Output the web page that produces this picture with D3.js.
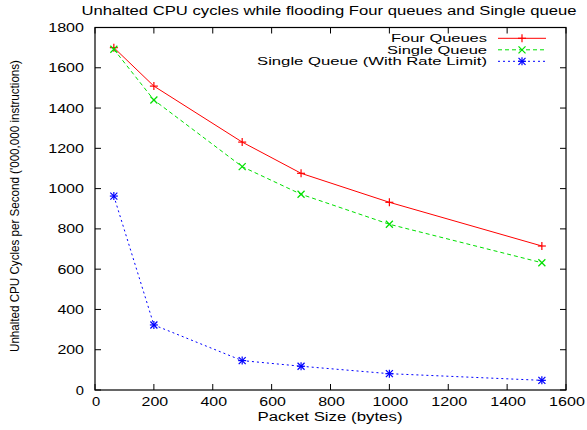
<!DOCTYPE html>
<html>
<head>
<meta charset="utf-8">
<script src="https://cdn.jsdelivr.net/npm/d3@7"></script>
<style>
  body { margin: 0; background: #fff; }
  svg text { font-family: "Liberation Sans", Arial, sans-serif; fill: #000; font-size: 12px; }
</style>
</head>
<body>
<div id="chart"></div>
<script>
// packet sizes (bytes)
const packetSizes = [64, 200, 500, 700, 1000, 1518];
// CPU cycles per second ('000,000 instructions)
const fourQueues = [1700, 1509, 1231, 1076, 932, 715];
const singleQueue = [1692, 1440, 1109, 972, 823, 632];
const singleQueueRate = [963, 323, 146, 118, 81, 48];

const xTicks = [0, 200, 400, 600, 800, 1000, 1200, 1400, 1600];
const yTicks = [0, 200, 400, 600, 800, 1000, 1200, 1400, 1600, 1800];

const seriesNames = ["Four Queues", "Single Queue", "Single Queue (With Rate Limit)"];
const seriesValues = [fourQueues, singleQueue, singleQueueRate];
const seriesColors = ["#ff0000", "#00e000", "#0000ff"];
const seriesDash = [null, "4,3", "2,3"];
const seriesMarker = ["plus", "cross", "star"];
// gnuplot's wide text, width of each legend label
const legendWidths = [96, 100, 230];

const width = 587, height = 430;
const margin = {top: 27.5, right: 21, bottom: 40, left: 95};
const digitWidth = 9.2;

let svg = d3.select("#chart").append("svg")
    .attr("width", width)
    .attr("height", height);

let x = d3.scaleLinear().domain([0, 1600]).range([margin.left, width - margin.right]);
let y = d3.scaleLinear().domain([0, 1800]).range([height - margin.bottom, margin.top]);

const tickLen = 6;

// ticks, gnuplot style: inward and mirrored
let ticks = svg.append("g").attr("stroke", "#000").attr("stroke-width", 1);
xTicks.forEach(function(t) {
    ticks.append("line").attr("x1", x(t)).attr("x2", x(t))
        .attr("y1", y(0)).attr("y2", y(0) - tickLen);
    ticks.append("line").attr("x1", x(t)).attr("x2", x(t))
        .attr("y1", y(1800)).attr("y2", y(1800) + tickLen);
});
yTicks.forEach(function(t) {
    ticks.append("line").attr("x1", x(0)).attr("x2", x(0) + tickLen)
        .attr("y1", y(t)).attr("y2", y(t));
    ticks.append("line").attr("x1", x(1600)).attr("x2", x(1600) - tickLen)
        .attr("y1", y(t)).attr("y2", y(t));
});

// border
svg.append("rect")
    .attr("x", x(0)).attr("y", y(1800))
    .attr("width", x(1600) - x(0)).attr("height", y(0) - y(1800))
    .attr("fill", "none").attr("stroke", "#000").attr("stroke-width", 1.2);

// tick labels
svg.append("g").selectAll("text").data(xTicks).enter().append("text")
    .attr("x", d => x(d) + 1).attr("y", y(0) + 16)
    .attr("text-anchor", "middle")
    .attr("textLength", d => String(d).length * digitWidth - 1)
    .attr("lengthAdjust", "spacingAndGlyphs")
    .text(d => d);
svg.append("g").selectAll("text").data(yTicks).enter().append("text")
    .attr("x", x(0) - 11).attr("y", d => y(d) + 4.5)
    .attr("text-anchor", "end")
    .attr("textLength", d => String(d).length * digitWidth - 1)
    .attr("lengthAdjust", "spacingAndGlyphs")
    .text(d => d);

// title and axis labels
svg.append("text")
    .attr("x", 329).attr("y", 15)
    .attr("text-anchor", "middle")
    .attr("textLength", 495)
    .attr("lengthAdjust", "spacingAndGlyphs")
    .text("Unhalted CPU cycles while flooding Four queues and Single queue");
svg.append("text")
    .attr("x", 330).attr("y", 421)
    .attr("text-anchor", "middle")
    .attr("textLength", 145)
    .attr("lengthAdjust", "spacingAndGlyphs")
    .text("Packet Size (bytes)");
svg.append("text")
    .attr("transform", "translate(19, 206) rotate(-90)")
    .attr("text-anchor", "middle")
    .attr("textLength", 292)
    .attr("lengthAdjust", "spacingAndGlyphs")
    .style("font-size", "13px")
    .text("Unhalted CPU Cycles per Second ('000,000 instructions)");

function drawMarker(g, type, cx, cy, color) {
    let s = 4;
    let segs = [];
    if (type === "plus" || type === "star") {
        segs.push([cx - s, cy, cx + s, cy], [cx, cy - s, cx, cy + s]);
    }
    if (type === "cross" || type === "star") {
        let k = 3.5;
        segs.push([cx - k, cy - k, cx + k, cy + k], [cx - k, cy + k, cx + k, cy - k]);
    }
    segs.forEach(function(p) {
        g.append("line")
            .attr("x1", p[0]).attr("y1", p[1]).attr("x2", p[2]).attr("y2", p[3])
            .attr("stroke", color).attr("stroke-width", 1.2);
    });
}

let line = d3.line()
    .x(function(d, i) { return x(packetSizes[i]); })
    .y(function(d) { return y(d); });

seriesValues.forEach(function(vals, s) {
    let g = svg.append("g");
    g.append("path")
        .attr("d", line(vals))
        .attr("fill", "none")
        .attr("stroke", seriesColors[s])
        .attr("stroke-width", 1)
        .attr("stroke-dasharray", seriesDash[s]);
    vals.forEach(function(v, i) {
        drawMarker(g, seriesMarker[s], x(packetSizes[i]), y(v), seriesColors[s]);
    });
});

// legend
let legend = svg.append("g");
seriesNames.forEach(function(name, s) {
    let ly = 38.3 + s * 11.5;
    legend.append("text")
        .attr("x", 487).attr("y", ly + 4)
        .attr("text-anchor", "end")
        .attr("textLength", legendWidths[s])
        .attr("lengthAdjust", "spacingAndGlyphs")
        .style("font-size", "11px")
        .text(name);
    legend.append("line")
        .attr("x1", 498).attr("x2", 546)
        .attr("y1", ly).attr("y2", ly)
        .attr("stroke", seriesColors[s])
        .attr("stroke-width", 1)
        .attr("stroke-dasharray", seriesDash[s]);
    drawMarker(legend, seriesMarker[s], 522, ly, seriesColors[s]);
});
</script>
</body>
</html>
